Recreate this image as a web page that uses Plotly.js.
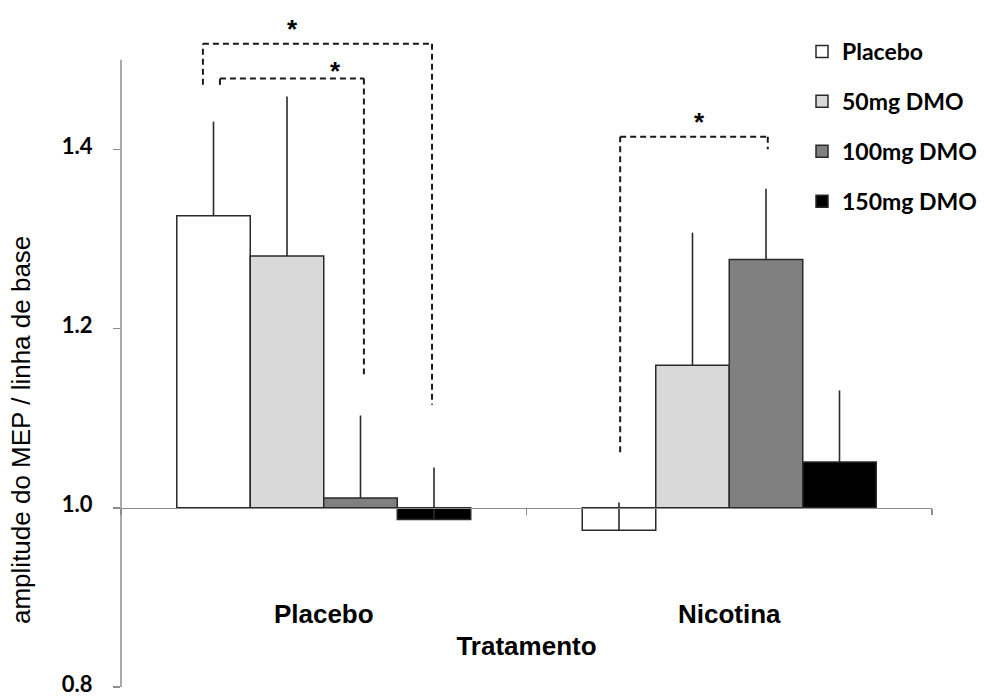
<!DOCTYPE html>
<html><head><meta charset="utf-8">
<script src="https://cdn.plot.ly/plotly-3.0.1.min.js"></script>
<style>html,body{margin:0;padding:0;background:#fff}#chart{width:984px;height:696px}</style>
</head><body><div id="chart"></div>
<script>
// ---- data ----
const categories = ['Placebo', 'Nicotina'];
const seriesNames = ['Placebo', '50mg DMO', '100mg DMO', '150mg DMO'];
const placeboVals = [1.326, 0.975];
const dmo50Vals = [1.281, 1.159];
const dmo100Vals = [1.011, 1.277];
const dmo150Vals = [0.987, 1.051];
const placeboErr = [0.105, 0.031];
const dmo50Err = [0.178, 0.148];
const dmo100Err = [0.092, 0.079];
const dmo150Err = [0.058, 0.080];
const baseline = 1.0;
const yTickVals = [0.8, 1.0, 1.2, 1.4];
const yTickText = ['0.8', '1.0', '1.2', '1.4'];
const xTitle = 'Tratamento';
const yTitle = 'amplitude do MEP / linha de base';
// significance brackets (category-index x, data y)
const bracketX = [[-0.298, -0.298, 0.267, 0.267], [-0.256, -0.256, 0.099, 0.099], [0.731, 0.731, 1.095, 1.095]];
const bracketY = [[1.472, 1.518, 1.518, 1.115], [1.472, 1.479, 1.479, 1.149], [1.062, 1.414, 1.414, 1.400]];
const starX = [-0.078, 0.030, 0.927];
const starY = [1.534, 1.487, 1.430];

// ---- styles ----
const fills = ['#ffffff', '#d9d9d9', '#808080', '#000000'];
const values = [placeboVals, dmo50Vals, dmo100Vals, dmo150Vals];
const errs = [placeboErr, dmo50Err, dmo100Err, dmo150Err];
const yMin = 0.8, yMax = 1.56, axisTop = 1.5;
const axisGray = '#8c8c8c';

const traces = seriesNames.map((name, i) => ({
  type: 'bar',
  name: name,
  x: categories,
  y: values[i].map(v => v - baseline),
  base: baseline,
  legendgroup: 'g' + i,
  marker: {color: fills[i], line: {color: '#2a2a2a', width: 1.5}},
  error_y: {type: 'data', symmetric: false, array: errs[i], arrayminus: errs[i].map(() => 0),
            color: '#2a2a2a', thickness: 1.6, width: 0},
  hoverinfo: 'skip'
}));

const shapes = [];
// y axis line up to 1.5
shapes.push({type: 'line', xref: 'paper', yref: 'y', x0: 0, x1: 0, y0: yMin, y1: axisTop,
             line: {color: axisGray, width: 1.5}, layer: 'below'});
bracketX.forEach((bx, b) => {
  for (let k = 0; k < bx.length - 1; k++) {
    shapes.push({type: 'line', xref: 'x', yref: 'y', x0: bx[k], x1: bx[k + 1], y0: bracketY[b][k], y1: bracketY[b][k + 1],
                 line: {color: '#1a1a1a', width: 2, dash: '6px,4px'}});
  }
});

const annotations = starX.map((sx, i) => ({
  xref: 'x', yref: 'y', x: sx, y: starY[i], text: '*', showarrow: false,
  font: {family: 'Liberation Sans, Arial', size: 26, color: '#000', weight: 'bold'}
}));
annotations.push({xref: 'paper', yref: 'paper', x: (21 - 121) / 811, y: (687 - 430) / 681,
  text: yTitle, textangle: -90, showarrow: false, xanchor: 'center', yanchor: 'middle',
  font: {family: 'Liberation Sans, Arial', size: 26, color: '#000'}});

const layout = {
  width: 984, height: 696,
  margin: {l: 121, r: 52, t: 6, b: 9, autoexpand: false},
  paper_bgcolor: '#fff', plot_bgcolor: '#fff',
  barmode: 'group', bargap: 0.275, bargroupgap: 0,
  showlegend: true,
  legend: {xref: 'paper', yref: 'paper', x: (802 - 121) / 811, y: (687 - 30) / 681, xanchor: 'left', yanchor: 'top',
           font: {family: 'Lato', size: 23, color: '#000', weight: 'bold'}, tracegroupgap: 17,
           bgcolor: 'rgba(0,0,0,0)', traceorder: 'grouped'},
  xaxis: {type: 'category', categoryorder: 'array', categoryarray: categories, range: [-0.5, 1.5],
          anchor: 'free', position: (baseline - yMin) / (yMax - yMin),
          showline: true, linecolor: axisGray, linewidth: 1.5,
          ticks: 'outside', tickson: 'boundaries', ticklen: 6, tickcolor: axisGray, tickwidth: 1.5,
          ticklabelstandoff: 83, showgrid: false, zeroline: false, automargin: false,
          tickfont: {family: 'Liberation Sans, Arial', size: 26, color: '#000', weight: 'bold'},
          title: {text: xTitle, standoff: 8, font: {family: 'Liberation Sans, Arial', size: 26, color: '#000', weight: 'bold'}}},
  yaxis: {range: [yMin, yMax], tickvals: yTickVals, ticktext: yTickText, ticklabeloverflow: 'allow',
          ticklabelshift: -3,
          showline: false, ticks: 'outside', ticklen: 7, tickcolor: axisGray, tickwidth: 1.5,
          ticklabelstandoff: 16, showgrid: false, zeroline: false, automargin: false,
          tickfont: {family: 'Lato', size: 22, color: '#000', weight: 'bold'}},
  shapes: shapes,
  annotations: annotations
};

Plotly.newPlot('chart', traces, layout, {displayModeBar: false, staticPlot: true});
</script>
</body></html>
